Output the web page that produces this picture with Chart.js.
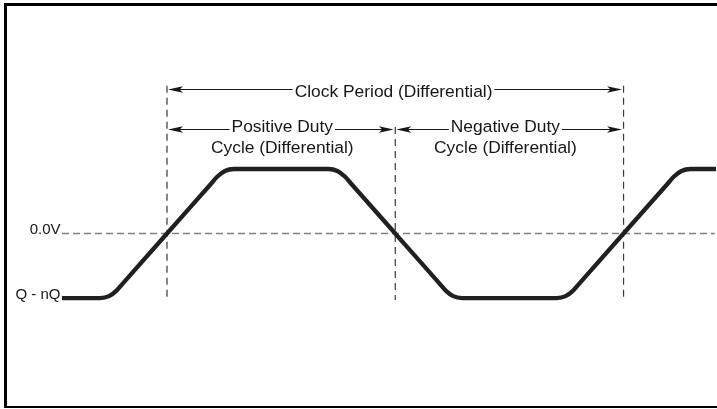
<!DOCTYPE html>
<html>
<head>
<meta charset="utf-8">
<script src="https://cdn.jsdelivr.net/npm/chart.js@4"></script>
<style>
  html, body { margin: 0; padding: 0; background: #fff; }
  #wrap { position: relative; width: 717px; height: 409px; }
  #frame {
    position: absolute; left: 4px; top: 3px; width: 713px; height: 405px;
    box-sizing: border-box; border-left: 3px solid #000; border-top: 3px solid #000;
    border-bottom: 2px solid #000; pointer-events: none;
  }
</style>
</head>
<body>
<div id="wrap">
  <canvas id="timing" width="717" height="409"></canvas>
  <div id="frame"></div>
</div>
<script>
// time axis: one clock period = 8 units, first rising crossing at t = 0
const waveT = [-1.84,
  -1.175, -1.015, -0.884, -0.78, 0, 0.78, 0.884, 1.015, 1.175,
  2.825, 2.985, 3.116, 3.22, 4, 4.78, 4.884, 5.015, 5.175,
  6.825, 6.985, 7.116, 7.22, 8, 8.78, 8.884, 9.015, 9.175,
  9.62];
const waveV = [-1,
  -1, -0.97, -0.884, -0.78, 0, 0.78, 0.884, 0.97, 1,
  1, 0.97, 0.884, 0.78, 0, -0.78, -0.884, -0.97, -1,
  -1, -0.97, -0.884, -0.78, 0, 0.78, 0.884, 0.97, 1,
  1];

// crossing guides
const crossT = [0, 4, 8];
const guideTop = [2.29, 1.65, 2.29];
const guideBottom = -1.03;

// 0.0V reference line
const zeroSpan = [-1.84, 9.6];

// level labels
const levelV = [0, -1];
const levelLabels = ['0.0V', 'Q - nQ'];

// dimension arrows
const arrowFrom = [0, 0, 4];
const arrowTo = [8, 4, 8];
const arrowV = [2.233, 1.62, 1.62];
const arrowTextT = [3.97, 2.02, 5.93];
const arrowText = ['Clock Period (Differential)', 'Positive Duty', 'Negative Duty'];
const arrowSubText = ['', 'Cycle (Differential)', 'Cycle (Differential)'];

const FONT = 'Liberation Sans, Arial, sans-serif';

const pts = (xs, ys) => xs.map((x, i) => ({ x: x, y: ys[i] }));

const guideSets = crossT.map((t, i) => ({
  data: [{ x: t, y: guideTop[i] }, { x: t, y: guideBottom }],
  borderColor: '#3a3a3a',
  borderWidth: 1.2,
  borderDash: [7, 5],
  pointRadius: 0,
  clip: false
}));

const arrowHead = (ctx, x, y, dir) => {
  ctx.beginPath();
  ctx.moveTo(x, y);
  ctx.lineTo(x - dir * 15, y - 3.2);
  ctx.lineTo(x - dir * 11.5, y);
  ctx.lineTo(x - dir * 15, y + 3.2);
  ctx.closePath();
  ctx.fill();
};

const annotations = {
  id: 'annotations',
  afterDatasetsDraw(chart) {
    const { ctx, scales: { x, y }, chartArea } = chart;
    ctx.save();
    ctx.fillStyle = '#161616';
    ctx.strokeStyle = '#161616';

    // level labels sit on their lines
    ctx.font = '15px ' + FONT;
    ctx.textAlign = 'right';
    ctx.textBaseline = 'alphabetic';
    levelV.forEach((v, i) => {
      ctx.fillText(levelLabels[i], chartArea.left - 1.5, y.getPixelForValue(v) + 0.5);
    });

    // arrows with text breaking the line
    ctx.font = '17.4px ' + FONT;
    ctx.textAlign = 'center';
    ctx.lineWidth = 1.2;
    arrowText.forEach((txt, i) => {
      const yy = Math.round(y.getPixelForValue(arrowV[i])) + 0.5;
      const x0 = x.getPixelForValue(arrowFrom[i]) + 1;
      const x1 = x.getPixelForValue(arrowTo[i]) - 1.5;
      const cx = x.getPixelForValue(arrowTextT[i]);
      const w = ctx.measureText(txt).width;
      const tl = cx - w / 2 - 2;
      const tr = cx + w / 2 + 2;
      ctx.beginPath();
      ctx.moveTo(x0 + 10, yy);
      ctx.lineTo(tl, yy);
      ctx.moveTo(tr, yy);
      ctx.lineTo(x1 - 10, yy);
      ctx.stroke();
      arrowHead(ctx, x0, yy, -1);
      arrowHead(ctx, x1, yy, 1);
      if (arrowSubText[i]) {
        ctx.fillText(txt, cx, yy + 2);
        ctx.fillText(arrowSubText[i], cx, yy + 23);
      } else {
        ctx.fillText(txt, cx, yy + 7);
      }
    });
    ctx.restore();
  }
};

new Chart(document.getElementById('timing'), {
  type: 'line',
  data: {
    datasets: [{
      data: pts(waveT, waveV),
      borderColor: '#231f20',
      borderWidth: 4.3,
      cubicInterpolationMode: 'monotone',
      borderCapStyle: 'butt',
      borderJoinStyle: 'round',
      pointRadius: 0,
      clip: false
    }, {
      data: [{ x: zeroSpan[0], y: 0 }, { x: zeroSpan[1], y: 0 }],
      borderColor: '#808080',
      borderWidth: 1.6,
      borderDash: [7, 4],
      pointRadius: 0,
      clip: false
    }, ...guideSets]
  },
  options: {
    responsive: false,
    animation: false,
    events: [],
    layout: {
      padding: { left: 62, right: 1, top: 0, bottom: 0 }
    },
    plugins: {
      legend: { display: false },
      tooltip: { enabled: false }
    },
    scales: {
      x: { type: 'linear', display: false, min: -1.84, max: 9.62 },
      y: { type: 'linear', display: false, min: -2.72, max: 3.62 }
    }
  },
  plugins: [annotations]
});
</script>
</body>
</html>
